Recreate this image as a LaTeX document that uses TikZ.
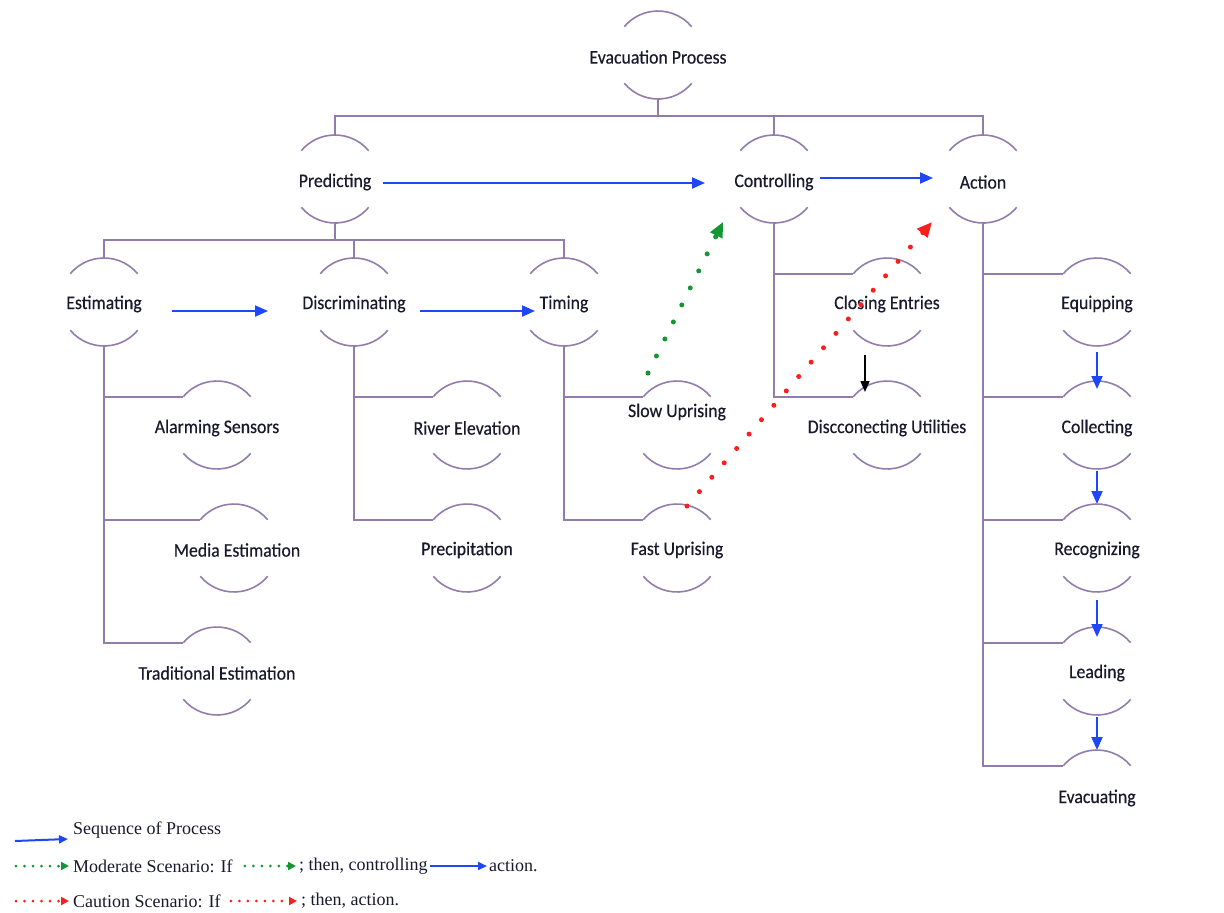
\documentclass[tikz,border=0pt]{standalone}
\usepackage{fontspec}
\setmainfont{Liberation Serif}
\newfontfamily\nodefont{Carlito}[FakeStretch=0.92,FakeBold=0.4]
\usetikzlibrary{arrows.meta,calc}
\definecolor{treec}{RGB}{146,124,172}
\definecolor{seqblue}{RGB}{30,70,250}
\definecolor{modgreen}{RGB}{20,150,50}
\definecolor{cautred}{RGB}{250,30,30}
\definecolor{txt}{RGB}{25,25,45}
\tikzset{
  hub/.style={circle, minimum size=88pt, inner sep=0pt, outer sep=0pt},
  lbl/.style={inner sep=0pt, yshift=-2pt, font=\nodefont\fontsize{19.3}{22}\selectfont, text=txt},
  tree/.style={draw=treec, line width=1.6pt},
  seq/.style={draw=seqblue, line width=2pt, -{Triangle[length=13pt,width=11pt]}},
  legseq/.style={draw=seqblue, line width=2pt, -{Triangle[length=9pt,width=8pt]}},
  blk/.style={draw=black, line width=1.5pt, -{Triangle[length=11pt,width=9pt]}},
  moddot/.style={draw=modgreen, line width=5pt, line cap=round, dash pattern=on 0pt off 19pt, -{Triangle[length=15pt,width=13pt]}},
  cautdot/.style={draw=cautred, line width=5pt, line cap=round, dash pattern=on 0pt off 19pt, -{Triangle[length=15pt,width=13pt]}},
  legmod/.style={draw=modgreen, line width=3pt, line cap=round, dash pattern=on 0pt off 8.5pt, -{Triangle[length=8pt,width=8pt]}},
  legcaut/.style={draw=cautred, line width=3pt, line cap=round, dash pattern=on 0pt off 8.5pt, -{Triangle[length=8pt,width=8pt]}},
  leg/.style={inner sep=0pt, anchor=west, font=\fontsize{18}{20}\selectfont, text=txt},
}
\newcommand\hubarcs[1]{%
  \draw[tree] (#1.40) arc[start angle=40,end angle=140,radius=44pt];
  \draw[tree] (#1.220) arc[start angle=220,end angle=320,radius=44pt];}
\newcommand\toparconly[1]{%
  \draw[tree] (#1.40) arc[start angle=40,end angle=140,radius=44pt];}
\begin{document}
\begin{tikzpicture}[x=1pt,y=-1pt]
\useasboundingbox (0,0) rectangle (1224,913);
% hubs
\node[hub] (evac) at (658,55) {};
\node[hub] (pred) at (335,179) {};
\node[hub] (ctrl) at (774,179) {};
\node[hub] (act) at (983,179) {};
\node[hub] (est) at (104,302) {};
\node[hub] (disc) at (354,302) {};
\node[hub] (tim) at (564,302) {};
\node[hub] (alarm) at (217,425) {};
\node[hub] (media) at (234,548) {};
\node[hub] (trad) at (217,671) {};
\node[hub] (river) at (467,425) {};
\node[hub] (precip) at (467,548) {};
\node[hub] (slow) at (677,425) {};
\node[hub] (fast) at (677,548) {};
\node[hub] (close) at (887,302) {};
\node[hub] (disu) at (887,425) {};
\node[hub] (equip) at (1097,302) {};
\node[hub] (collect) at (1097,425) {};
\node[hub] (recog) at (1097,548) {};
\node[hub] (lead) at (1097,671) {};
\node[hub] (evacu) at (1097,794) {};
% labels
\node[lbl] (evac-t) at (658,55) {Evacuation Process};
\node[lbl] (pred-t) at (335,180) {Predicting};
\node[lbl] (ctrl-t) at (774,180) {Controlling};
\node[lbl] (act-t) at (983,180) {Action};
\node[lbl] (est-t) at (104,302) {Estimating};
\node[lbl] (disc-t) at (354,302) {Discriminating};
\node[lbl] (tim-t) at (564,302) {Timing};
\node[lbl] (alarm-t) at (217,426) {Alarming Sensors};
\node[lbl] (media-t) at (237,548) {Media Estimation};
\node[lbl] (trad-t) at (217,671) {Traditional Estimation};
\node[lbl] (river-t) at (467,426) {River Elevation};
\node[lbl] (precip-t) at (467,548) {Precipitation};
\node[lbl] (slow-t) at (677,410) {Slow Uprising};
\node[lbl] (fast-t) at (677,548) {Fast Uprising};
\node[lbl] (close-t) at (887,302) {Closing Entries};
\node[lbl] (disu-t) at (887,426) {Discconecting Utilities};
\node[lbl] (equip-t) at (1097,302) {Equipping};
\node[lbl] (collect-t) at (1097,426) {Collecting};
\node[lbl] (recog-t) at (1097,548) {Recognizing};
\node[lbl] (lead-t) at (1097,671) {Leading};
\node[lbl] (evacu-t) at (1097,796) {Evacuating};
% arcs
\foreach \h in {evac,pred,ctrl,act,est,disc,tim,alarm,media,trad,river,precip,slow,fast,close,disu,equip,collect,recog,lead}{\hubarcs{\h}}
\toparconly{evacu}
% tree connectors
\draw[tree] (evac.south) -- ++(0,17) coordinate (j0);
\draw[tree] (pred.north) |- (j0) -| (act.north);
\draw[tree] (ctrl.north) -- (ctrl.north |- j0);
\draw[tree] (pred.south) -- ++(0,17) coordinate (j1);
\draw[tree] (est.north) |- (j1) -| (tim.north);
\draw[tree] (disc.north) -- (disc.north |- j1);
\foreach \c in {alarm,media,trad}{\draw[tree] (est.south) |- (\c.140);}
\foreach \c in {river,precip}{\draw[tree] (disc.south) |- (\c.140);}
\foreach \c in {slow,fast}{\draw[tree] (tim.south) |- (\c.140);}
\foreach \c in {close,disu}{\draw[tree] (ctrl.south) |- (\c.140);}
\foreach \c in {equip,collect,recog,lead,evacu}{\draw[tree] (act.south) |- (\c.140);}
% sequence arrows
\draw[seq] ([shift={(4pt,-4pt)}]pred.east) -- ([shift={(-25pt,-4pt)}]ctrl.west);
\draw[seq] ([shift={(2pt,1pt)}]ctrl.east) -- ([shift={(-6pt,1pt)}]act.west);
\draw[seq] ([shift={(24pt,-9pt)}]est.east) -- ([shift={(-42pt,-9pt)}]disc.west);
\draw[seq] ([shift={(22pt,-9pt)}]disc.east) -- ([shift={(15pt,-9pt)}]tim.west);
\draw[seq] ([yshift=-6pt]equip.south) -- ([yshift=-8pt]collect.north);
\draw[seq] ([yshift=-2pt]collect.south) -- ([yshift=0pt]recog.north);
\draw[seq] ([yshift=-8pt]recog.south) -- ([yshift=-10pt]lead.north);
\draw[seq] ([yshift=-2pt]lead.south) -- ([yshift=0pt]evacu.north);
\draw[blk] ([shift={(-22pt,-9pt)}]close.south) -- ([shift={(-22pt,-11pt)}]disu.north);
% scenario arrows
\draw[moddot] ([shift={(-29pt,8pt)}]slow.north) -- ([shift={(-51pt,1pt)}]ctrl.south);
\draw[cautdot] ([shift={(10pt,-2pt)}]fast.north) -- ([shift={(-51pt,1pt)}]act.south);
% legend
\node[leg] (l1) at (73,830) {Sequence of Process};
\node[leg] (l2) at (73,866) {Moderate Scenario: If};
\node[leg] (l2b) at (299,866) {; then, controlling};
\node[leg] (l2c) at (489,866) {action.};
\node[leg] (l3) at (73,901) {Caution Scenario: If};
\node[leg] (l3b) at (301,901) {; then, action.};
\coordinate (a1s) at (15,841);
\coordinate (a2s) at (16,866);
\coordinate (a3s) at (16,901);
\draw[legseq] (a1s) -- ([shift={(-5pt,-9pt)}]l1.west);
\draw[legmod] (a2s) -- ([xshift=-4pt]l2.west);
\draw[legmod] ([xshift=12pt]l2.east) -- ([xshift=-3pt]l2b.west);
\draw[legseq] ([xshift=2pt]l2b.east) -- ([xshift=-2pt]l2c.west);
\draw[legcaut] (a3s) -- ([xshift=-4pt]l3.west);
\draw[legcaut] ([xshift=10pt]l3.east) -- ([xshift=-4pt]l3b.west);
\end{tikzpicture}
\end{document}
